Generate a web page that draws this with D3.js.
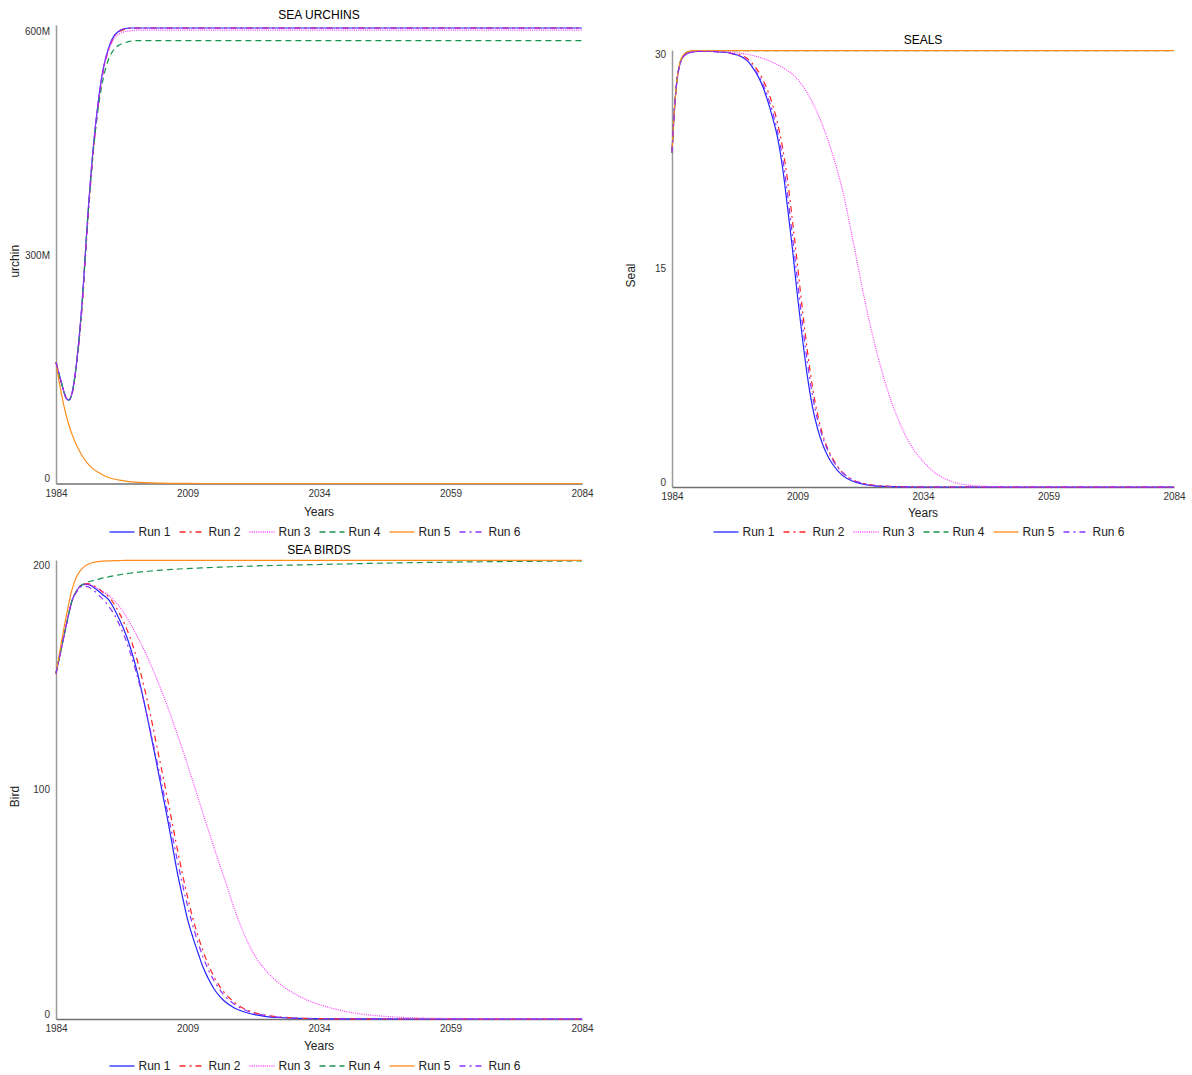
<!DOCTYPE html>
<html>
<head>
<meta charset="utf-8">
<script src="https://cdn.jsdelivr.net/npm/d3@7"></script>
<style>
  body { margin: 0; background: #fff; }
  text { font-family: "Liberation Sans", Arial, sans-serif; fill: #222; }
</style>
</head>
<body>
<svg id="chart" width="1192" height="1075"></svg>
<script>
// ---- Series names and styles ----
const runNames = ["Run 1", "Run 2", "Run 3", "Run 4", "Run 5", "Run 6"];
const runColors = ["#2424ff", "#ff2424", "#ff3cff", "#17924f", "#ff8c1a", "#8b33ff"];
const runDashes = [null, "6,4,2,4", "1,1.2", "6,4", null, "6,4,2,4"];
const yearTicks = [1984, 2009, 2034, 2059, 2084];

// ---- Sea urchins (millions) ----
const urchinYears = [1984, 1985, 1986, 1986.4, 1987, 1988, 1989, 1990, 1991, 1992, 1993, 1994, 1995, 1996, 1997, 1998, 1999, 2001, 2004, 2009, 2014, 2024, 2044, 2064, 2084];
const urchinRun1 = [163, 136, 114, 112, 120, 168, 247, 355, 445, 511, 558, 585, 601, 608, 611, 612, 612, 612, 612, 612, 612, 612, 612, 612, 612];
const urchinRun2 = [163, 136, 114, 112, 119, 165, 240, 347, 438, 506, 555, 583, 600, 607, 610, 611.5, 612, 612, 612, 612, 612, 612, 612, 612, 612];
const urchinRun3 = [163, 136, 114, 112, 120, 168, 247, 355, 445, 510, 556, 582, 597, 604, 607, 608, 609, 609, 609, 609, 609, 609, 609, 609, 609];
const urchinRun4 = [163, 136, 114, 112, 120, 167, 245, 352, 440, 503, 545, 570, 583, 589, 592, 594, 595, 595, 595, 595, 595, 595, 595, 595, 595];
const urchinRun5 = [163, 121, 90, 80, 67, 50, 37, 27, 20, 15, 11, 8, 6, 4.5, 3.4, 2.5, 1.9, 1.1, 0.5, 0.1, 0, 0, 0, 0, 0];
const urchinRun6 = [163, 136, 114, 112, 120, 167, 245, 352, 443, 510, 557, 585, 601, 608, 611, 612, 612, 612, 612, 612, 612, 612, 612, 612, 612];
const urchinTicks = [0, 300, 600];

// ---- Seals ----
const sealYears = [1984, 1984.5, 1985, 1985.5, 1986, 1987, 1988, 1989, 1992, 1994, 1996,
  1997, 1998, 1999, 2000, 2001, 2002, 2003, 2004, 2005, 2006, 2007, 2008, 2009, 2010, 2011, 2012, 2013, 2014, 2015, 2016,
  2018, 2020, 2022, 2024, 2026, 2028, 2030, 2032, 2034, 2036, 2038, 2040,
  2044, 2049, 2054, 2064, 2084];
const sealRun1 = [23.5, 26.6, 28.6, 29.6, 30.1, 30.45, 30.55, 30.6, 30.6, 30.55, 30.45,
  30.35, 30.2, 29.95, 29.5, 28.95, 28.2, 27.2, 26.0, 24.6, 22.5, 19.7, 16.7, 13.4, 10.4, 7.7, 5.6, 4.1, 3.0, 2.2, 1.6,
  0.8, 0.4, 0.2, 0.1, 0.05, 0.03, 0.01, 0, 0, 0, 0, 0,
  0, 0, 0, 0, 0];
const sealRun2 = [23.5, 26.6, 28.6, 29.6, 30.1, 30.45, 30.55, 30.6, 30.6, 30.55, 30.45,
  30.4, 30.3, 30.1, 29.75, 29.3, 28.7, 27.9, 26.9, 25.6, 23.9, 21.6, 18.7, 15.6, 12.4, 9.5, 7.0, 5.1, 3.7, 2.7, 2.0,
  1.0, 0.5, 0.26, 0.13, 0.07, 0.04, 0.02, 0.01, 0, 0, 0, 0,
  0, 0, 0, 0, 0];
const sealRun3 = [23.5, 26.6, 28.6, 29.6, 30.1, 30.45, 30.55, 30.6, 30.6, 30.6, 30.55,
  30.5, 30.45, 30.4, 30.32, 30.23, 30.12, 30.0, 29.85, 29.67, 29.47, 29.25, 29.0, 28.65, 28.2, 27.65, 27.0, 26.25, 25.4, 24.45, 23.35,
  20.8, 17.4, 13.8, 10.6, 7.9, 5.7, 4.0, 2.7, 1.8, 1.1, 0.65, 0.35,
  0.1, 0.02, 0, 0, 0];
const sealRun4 = [23.5, 26.6, 28.6, 29.7, 30.2, 30.55, 30.65, 30.66, 30.66, 30.66, 30.66,
  30.66, 30.66, 30.66, 30.66, 30.66, 30.66, 30.66, 30.66, 30.66, 30.66, 30.66, 30.66, 30.66, 30.66, 30.66, 30.66, 30.66, 30.66, 30.66, 30.66,
  30.66, 30.66, 30.66, 30.66, 30.66, 30.66, 30.66, 30.66, 30.66, 30.66, 30.66, 30.66,
  30.66, 30.66, 30.66, 30.66, 30.66];
const sealRun5 = [23.5, 26.6, 28.6, 29.7, 30.2, 30.55, 30.65, 30.66, 30.66, 30.66, 30.66,
  30.66, 30.66, 30.66, 30.66, 30.66, 30.66, 30.66, 30.66, 30.66, 30.66, 30.66, 30.66, 30.66, 30.66, 30.66, 30.66, 30.66, 30.66, 30.66, 30.66,
  30.66, 30.66, 30.66, 30.66, 30.66, 30.66, 30.66, 30.66, 30.66, 30.66, 30.66, 30.66,
  30.66, 30.66, 30.66, 30.66, 30.66];
const sealRun6 = [23.5, 26.6, 28.6, 29.6, 30.1, 30.45, 30.55, 30.6, 30.6, 30.55, 30.45,
  30.35, 30.2, 29.95, 29.55, 29.05, 28.4, 27.5, 26.4, 25.0, 23.2, 20.6, 17.6, 14.5, 11.4, 8.7, 6.4, 4.7, 3.5, 2.6, 1.9,
  1.0, 0.5, 0.25, 0.12, 0.06, 0.03, 0.01, 0, 0, 0, 0, 0,
  0, 0, 0, 0, 0];
const sealTicks = [0, 15, 30];

// ---- Sea birds ----
const birdYears = [1984, 1985, 1986, 1987, 1988, 1989, 1990, 1991, 1992, 1993, 1994, 1995, 1996, 1997, 1998, 1999, 2000,
  2001, 2002, 2003, 2004, 2005, 2006, 2007, 2008, 2009, 2010, 2011, 2012, 2013, 2014, 2015, 2016,
  2018, 2020, 2022, 2024, 2026, 2028, 2030, 2032, 2034,
  2039, 2044, 2050, 2054, 2059, 2064, 2074, 2084];
const birdRun1 = [154, 165, 176, 186, 191, 193.5, 193.6, 192.6, 190.8, 188.8, 186.8, 183, 178.2, 173, 166.5, 158.5, 149,
  138.5, 127, 115.4, 103.5, 91.6, 79, 66, 55, 44.5, 36.5, 29.5, 22.8, 17.8, 13.6, 10.4, 8.0,
  4.8, 3.0, 1.8, 1.1, 0.7, 0.45, 0.3, 0.2, 0.13,
  0.05, 0.02, 0, 0, 0, 0, 0, 0];
const birdRun2 = [154, 165, 176, 186, 191, 193.6, 194, 193.2, 191.8, 190, 188.2, 185, 181, 176.2, 170.5, 163.5, 155,
  145.5, 135, 123.5, 112, 100.5, 88.5, 76.5, 65, 54.5, 45, 37, 30, 24, 19, 15, 11.8,
  7.2, 4.3, 2.6, 1.6, 1.0, 0.65, 0.4, 0.26, 0.17,
  0.06, 0.02, 0, 0, 0, 0, 0, 0];
const birdRun3 = [154, 165, 176, 186, 191, 193.5, 193.8, 193, 191.6, 190.3, 188.8, 186.6, 184, 180.6, 176.7, 172.5, 168,
  163.2, 158, 152.5, 146.6, 140.4, 134, 127.3, 120.4, 113.3, 106, 98.6, 91.2, 83.9, 76.7, 69.6, 62.7,
  48.5, 36.5, 27.5, 21.3, 16.7, 13.2, 10.4, 8.2, 6.5,
  3.4, 1.7, 0.7, 0.4, 0.2, 0.1, 0.03, 0];
const birdRun4 = [154, 165, 176, 186, 191, 193.5, 194.6, 195.3, 195.9, 196.5, 197, 197.5, 197.9, 198.3, 198.6, 198.9, 199.2,
  199.4, 199.6, 199.8, 200, 200.15, 200.3, 200.45, 200.6, 200.7, 200.8, 200.9, 201, 201.1, 201.2, 201.3, 201.4,
  201.55, 201.7, 201.85, 202, 202.1, 202.2, 202.3, 202.4, 202.5,
  202.75, 203, 203.25, 203.4, 203.55, 203.7, 203.9, 204.1];
const birdRun5 = [154, 167.5, 180, 191, 197.5, 200.8, 202.5, 203.4, 203.8, 204, 204.1, 204.2, 204.25, 204.3, 204.3, 204.3, 204.3,
  204.3, 204.3, 204.3, 204.3, 204.3, 204.3, 204.3, 204.3, 204.3, 204.3, 204.3, 204.3, 204.3, 204.3, 204.3, 204.3,
  204.3, 204.3, 204.3, 204.3, 204.3, 204.3, 204.3, 204.3, 204.3,
  204.3, 204.3, 204.3, 204.3, 204.3, 204.3, 204.3, 204.3];
const birdRun6 = [154, 165, 176, 186, 190.5, 192.8, 192.6, 191.2, 189.2, 186.8, 184, 180.5, 176, 170.5, 164, 156.5, 148,
  138.5, 128, 117, 106, 94.5, 83, 71.5, 60.5, 50.5, 41.8, 34, 27.3, 21.8, 17.2, 13.5, 10.5,
  6.4, 3.9, 2.4, 1.5, 0.9, 0.6, 0.38, 0.25, 0.16,
  0.06, 0.02, 0, 0, 0, 0, 0, 0];
const birdTicks = [0, 100, 200];

// ---- Panel layout ----
const panels = [
  { title: "SEA URCHINS", yLabel: "urchin", years: urchinYears,
    runs: [urchinRun1, urchinRun2, urchinRun3, urchinRun4, urchinRun5, urchinRun6],
    yMax: 616, ticks: urchinTicks, fmt: d => d === 0 ? "0" : d + "M",
    left: 56, right: 582, top: 25, bottom: 483.5, xTitleGap: 32, legendGap: 48.5 },
  { title: "SEALS", yLabel: "Seal", years: sealYears,
    runs: [sealRun1, sealRun2, sealRun3, sealRun4, sealRun5, sealRun6],
    yMax: 30.7, ticks: sealTicks, fmt: d => String(d),
    left: 672, right: 1174, top: 50, bottom: 487, xTitleGap: 30, legendGap: 45 },
  { title: "SEA BIRDS", yLabel: "Bird", years: birdYears,
    runs: [birdRun1, birdRun2, birdRun3, birdRun4, birdRun5, birdRun6],
    yMax: 204.5, ticks: birdTicks, fmt: d => String(d),
    left: 56, right: 582, top: 560, bottom: 1019, xTitleGap: 31, legendGap: 47 }
];

const svg = d3.select("#chart");

panels.forEach(p => {
  const g = svg.append("g");
  const x = d3.scaleLinear().domain([1984, 2084]).range([p.left, p.right]);
  const y = d3.scaleLinear().domain([0, p.yMax]).range([p.bottom, p.top]);
  const cx = (p.left + p.right) / 2;

  // title
  g.append("text").attr("x", cx).attr("y", p.top - 6)
    .attr("text-anchor", "middle").attr("font-size", 12).style("fill", "#000")
    .text(p.title);

  // y axis
  const yAxis = d3.axisLeft(y).tickValues(p.ticks).tickFormat(p.fmt).tickSize(0).tickPadding(6);
  const ya = g.append("g").attr("transform", `translate(${p.left},0)`).call(yAxis);
  ya.select(".domain").attr("stroke", "#9a9a9a").attr("stroke-width", 1.5);
  ya.selectAll(".tick text").attr("font-size", 10).attr("dy", "-0.2em")
    .style("fill", "#333").style("font-family", "'Liberation Sans', Arial, sans-serif");

  // x axis
  const xAxis = d3.axisBottom(x).tickValues(yearTicks).tickFormat(d3.format("d")).tickSize(0).tickPadding(6);
  const xa = g.append("g").attr("transform", `translate(0,${p.bottom})`).call(xAxis);
  xa.select(".domain").attr("stroke", "#707070").attr("stroke-width", 1.5);
  xa.selectAll(".tick text").attr("font-size", 10)
    .style("fill", "#333").style("font-family", "'Liberation Sans', Arial, sans-serif");

  // axis titles
  g.append("text").attr("x", cx).attr("y", p.bottom + p.xTitleGap)
    .attr("text-anchor", "middle").attr("font-size", 12).text("Years");
  const yMid = (p.top + p.bottom) / 2 + 7;
  g.append("text")
    .attr("transform", `translate(${p.left - 37},${yMid}) rotate(-90)`)
    .attr("text-anchor", "middle").attr("font-size", 12).text(p.yLabel);

  // series
  const line = d3.line()
    .x((d, i) => x(p.years[i]))
    .y(d => y(d))
    .curve(d3.curveMonotoneX);
  p.runs.forEach((vals, k) => {
    g.append("path")
      .attr("d", line(vals))
      .attr("fill", "none")
      .attr("stroke", runColors[k])
      .attr("stroke-width", 1.2)
      .attr("stroke-dasharray", runDashes[k]);
  });

  // legend
  const legStart = cx - 4.5 - 205;
  const leg = g.append("g").attr("transform", `translate(${legStart},${p.bottom + p.legendGap})`);
  runNames.forEach((name, k) => {
    const it = leg.append("g").attr("transform", `translate(${k * 70},0)`);
    it.append("line").attr("x1", 0).attr("x2", 25).attr("y1", 0).attr("y2", 0)
      .attr("stroke", runColors[k]).attr("stroke-width", 1.3)
      .attr("stroke-dasharray", runDashes[k]);
    it.append("text").attr("x", 29).attr("y", 0).attr("dy", "0.35em")
      .attr("font-size", 12).text(name);
  });
});
</script>
</body>
</html>
